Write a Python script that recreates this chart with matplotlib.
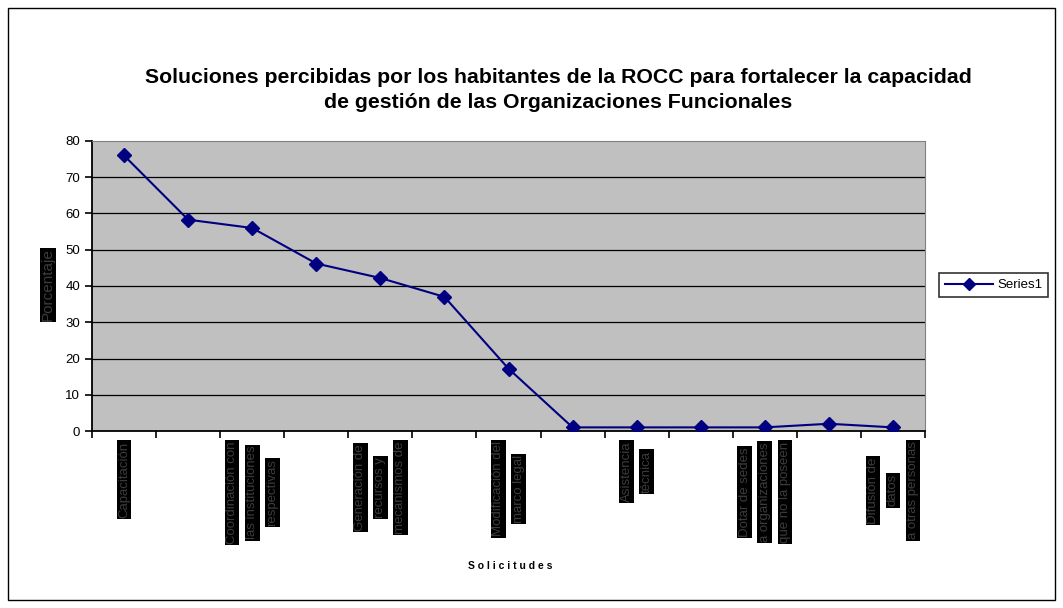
import numpy as np
import matplotlib.pyplot as plt
from matplotlib.patches import Rectangle
from matplotlib.lines import Line2D

plt.rcParams['font.family'] = ['Liberation Sans', 'DejaVu Sans']

# datos
titulo = 'Soluciones percibidas por los habitantes de la ROCC para fortalecer la capacidad\nde gestión de las Organizaciones Funcionales'
valores = [76, 58.3, 56, 46.2, 42.2, 37, 17.2, 1, 1, 1, 1, 2, 1]
# etiquetas de categoria (Excel solo muestra una de cada dos)
etiquetas = [
    ['Capacitación'],
    [],
    ['Coordinación con', 'las instituciones', 'respectivas'],
    [],
    ['Generación de', 'recursos y', 'mecanismos de'],
    [],
    ['Modificación del', 'marco legal'],
    [],
    ['Asistencia', 'técnica'],
    [],
    ['Dotar de sedes', 'a organizaciones', 'que no la poseen'],
    [],
    ['Difusión de', 'datos', 'a otras personas'],
]
y_ticks = [0, 10, 20, 30, 40, 50, 60, 70, 80]

fig = plt.figure(figsize=(10.63, 6.08), dpi=100)
fig.patches.append(Rectangle((8 / 1063, 8 / 608), 1047 / 1063, 592 / 608,
                             transform=fig.transFigure, fill=False,
                             edgecolor='black', linewidth=1))

ax = fig.add_axes([92 / 1063, 177 / 608, 833 / 1063, 290 / 608])
ax.set_facecolor('#c0c0c0')
x = np.arange(len(valores))
ax.plot(x, valores, color='#000080', linewidth=1.5, marker='D',
        markersize=7, label='Series1', zorder=3)

ax.set_xlim(-0.5, len(valores) - 0.5)
ax.set_ylim(0, 80)
ax.set_yticks(y_ticks)
ax.set_yticklabels([str(v) for v in y_ticks], fontsize=9.5)
ax.set_xticks(np.arange(-0.5, len(valores), 1.0))
ax.set_xticklabels([])
ax.tick_params(axis='both', direction='out', length=5, width=1.2, color='black')
for v in y_ticks[1:-1]:
    ax.axhline(v, color='black', linewidth=0.9, zorder=1)
ax.spines['left'].set_linewidth(1.3)
ax.spines['bottom'].set_linewidth(1.3)
ax.spines['top'].set_color('#808080')
ax.spines['right'].set_color('#808080')

# etiquetas verticales con fondo negro
anotaciones = []
for i, lineas in enumerate(etiquetas):
    n = len(lineas)
    grupo = []
    for j, t in enumerate(lineas):
        dx = (j - (n - 1) / 2) * 14.5
        a = ax.annotate(t, xy=(i, 0), xycoords=('data', 'axes fraction'),
                        xytext=(dx, -7.5), textcoords='offset points',
                        rotation=90, ha='center', va='top', fontsize=9.5,
                        color='#3c3c3c',
                        bbox=dict(boxstyle='square,pad=0.1', fc='black', ec='none'))
        grupo.append((a, dx))
    anotaciones.append(grupo)

fig.canvas.draw()
r = fig.canvas.get_renderer()
for grupo in anotaciones:
    if not grupo:
        continue
    alturas = [a.get_window_extent(r).height for a, dx in grupo]
    hmax = max(alturas)
    for (a, dx), h in zip(grupo, alturas):
        a.xyann = (dx, -7.5 - (hmax - h) / 2 * 72 / fig.dpi)

fig.text(48 / 1063, 1 - 285 / 608, 'Porcentaje', rotation=90,
         ha='center', va='center', fontsize=11, color='#3c3c3c',
         bbox=dict(boxstyle='square,pad=0.05', fc='black', ec='none'))

fig.text(510 / 1063, 1 - 566 / 608, 'S o l i c i t u d e s', ha='center',
         va='center', fontsize=7.5, fontweight='bold')
fig.text(558 / 1063, 1 - 90 / 608, titulo, ha='center', va='center',
         fontsize=15.3, fontweight='bold', linespacing=1.35)

h = Line2D([], [], color='#000080', linewidth=1.5, marker='D', markersize=6)
leg = fig.legend([h], ['Series1'], loc='center left',
                 bbox_to_anchor=(932 / 1063, 1 - 285 / 608), fontsize=9.5,
                 frameon=True, fancybox=False, borderpad=0.45,
                 handlelength=3.7, handletextpad=0.3)
leg.get_frame().set_edgecolor('black')
leg.get_frame().set_linewidth(1.2)

fig.savefig('out.png', dpi=100)
